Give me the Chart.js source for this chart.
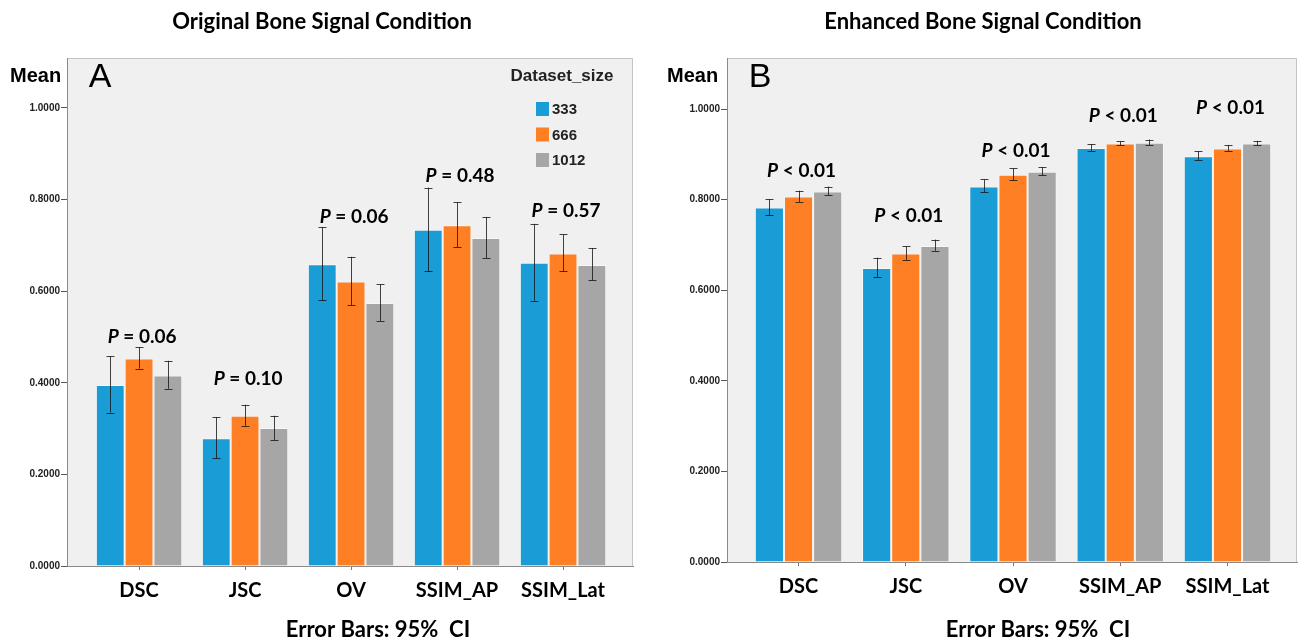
<!DOCTYPE html>
<html>
<head>
    <title>Bone Signal Condition</title>
    <script src="https://cdn.jsdelivr.net/npm/chart.js" type="text/javascript"></script>
    <style>
        body { margin: 0; background: #fff; }
        .panel { position: absolute; top: 0; height: 644px; }
    </style>
    <script type="text/javascript">

        var categories = ['DSC', 'JSC', 'OV', 'SSIM_AP', 'SSIM_Lat'];
        var datasetSizes = ['333', '666', '1012'];
        var barColors = ['rgb(26,156,215)', 'rgb(255,127,36)', 'rgb(166,166,166)'];

        // Panel A - original bone signal (rows: 333, 666, 1012)
        var origMean = [
            [0.395, 0.279, 0.659, 0.734, 0.662],
            [0.453, 0.328, 0.621, 0.744, 0.682],
            [0.416, 0.301, 0.574, 0.716, 0.657]
        ];
        var origLow = [
            [0.335, 0.235, 0.580, 0.643, 0.579],
            [0.431, 0.306, 0.569, 0.696, 0.643],
            [0.387, 0.275, 0.535, 0.672, 0.624]
        ];
        var origHigh = [
            [0.458, 0.325, 0.740, 0.826, 0.747],
            [0.478, 0.352, 0.675, 0.794, 0.724],
            [0.448, 0.328, 0.615, 0.762, 0.694]
        ];
        var origP = ['= 0.06', '= 0.10', '= 0.06', '= 0.48', '= 0.57'];
        var origPY = [0.501, 0.408, 0.763, 0.852, 0.775];

        // Panel B - enhanced bone signal
        var enhMean = [
            [0.783, 0.649, 0.829, 0.914, 0.896],
            [0.807, 0.681, 0.855, 0.924, 0.913],
            [0.818, 0.698, 0.862, 0.926, 0.924]
        ];
        var enhLow = [
            [0.766, 0.630, 0.817, 0.908, 0.888],
            [0.795, 0.667, 0.843, 0.920, 0.908],
            [0.810, 0.687, 0.854, 0.921, 0.920]
        ];
        var enhHigh = [
            [0.801, 0.672, 0.845, 0.923, 0.907],
            [0.820, 0.697, 0.869, 0.929, 0.921],
            [0.829, 0.712, 0.872, 0.933, 0.930]
        ];
        var enhP = ['< 0.01', '< 0.01', '< 0.01', '< 0.01', '< 0.01'];
        var enhPY = [0.863, 0.764, 0.907, 0.985, 1.002];

        var yTicks = [0, 0.2, 0.4, 0.6, 0.8, 1.0];

        var panelDecor = {
            id: 'panelDecor',
            beforeDraw: function (chart, args, o) {
                var ctx = chart.ctx, a = chart.chartArea;
                ctx.save();
                ctx.fillStyle = '#f0f0f0';
                ctx.fillRect(a.left, a.top, a.right - a.left, a.bottom - a.top);
                ctx.strokeStyle = '#c4c4c4';
                ctx.lineWidth = 1;
                ctx.beginPath();
                ctx.moveTo(a.left, a.top + 0.5);
                ctx.lineTo(a.right - 0.5, a.top + 0.5);
                ctx.lineTo(a.right - 0.5, a.bottom);
                ctx.stroke();
                ctx.restore();
            },
            afterDatasetsDraw: function (chart, args, o) {
                var ctx = chart.ctx, a = chart.chartArea;
                var ys = chart.scales.y, xs = chart.scales.x;
                ctx.save();

                // error bars
                ctx.strokeStyle = 'rgba(20,20,20,0.8)';
                ctx.lineWidth = 1;
                chart.data.datasets.forEach(function (ds, d) {
                    var meta = chart.getDatasetMeta(d);
                    meta.data.forEach(function (bar, i) {
                        var x = Math.round(bar.x) + 0.5;
                        var y1 = ys.getPixelForValue(o.low[d][i]);
                        var y2 = ys.getPixelForValue(o.high[d][i]);
                        ctx.beginPath();
                        ctx.moveTo(x, y1); ctx.lineTo(x, y2);
                        ctx.moveTo(x - 4, Math.round(y1) + 0.5); ctx.lineTo(x + 4, Math.round(y1) + 0.5);
                        ctx.moveTo(x - 4, Math.round(y2) + 0.5); ctx.lineTo(x + 4, Math.round(y2) + 0.5);
                        ctx.stroke();
                    });
                });

                // P value labels
                ctx.fillStyle = '#000';
                ctx.textBaseline = 'middle';
                categories.forEach(function (c, i) {
                    var cx = xs.getPixelForValue(i) + 3;
                    var cy = ys.getPixelForValue(o.pY[i]);
                    ctx.font = 'italic bold 19px Lato';
                    var w1 = ctx.measureText('P').width;
                    ctx.font = 'bold 19px Lato';
                    var rest = ' ' + o.pText[i];
                    var w2 = ctx.measureText(rest).width;
                    var x0 = cx - (w1 + w2) / 2;
                    ctx.textAlign = 'left';
                    ctx.font = 'italic bold 19px Lato';
                    ctx.fillText('P', x0, cy);
                    ctx.font = 'bold 19px Lato';
                    ctx.fillText(rest, x0 + w1, cy);
                });

                // texts around the plot
                ctx.textAlign = 'center';
                ctx.font = 'bold 22px Lato';
                ctx.fillText(o.title, o.titleX, 22);
                ctx.font = 'bold 22px Lato';
                ctx.fillText('Error Bars: 95%  CI', o.footX, 630);
                ctx.textAlign = 'left';
                ctx.font = 'bold 20px "Liberation Sans"';
                ctx.fillText('Mean', o.meanX, 76);
                ctx.textAlign = 'center';
                ctx.font = '34px "Liberation Sans"';
                ctx.fillText(o.letter, a.left + o.letterDX, 78);

                // legend
                if (o.legend) {
                    ctx.font = 'bold 17px "Liberation Sans"';
                    ctx.fillStyle = '#222';
                    ctx.fillText('Dataset_size', 562, 76);
                    ctx.textAlign = 'left';
                    ctx.font = 'bold 15px "Liberation Sans"';
                    chart.data.datasets.forEach(function (ds, d) {
                        var top = 102 + d * 25.5;
                        ctx.fillStyle = ds.backgroundColor;
                        ctx.fillRect(536, top, 13, 14);
                        ctx.fillStyle = '#222';
                        ctx.fillText(ds.label, 552, top + 8);
                    });
                }
                ctx.restore();
            }
        };

        function makePanel(id, mean, low, high, pText, pY, opt) {
            var datasets = datasetSizes.map(function (s, d) {
                return {
                    label: s,
                    data: categories.map(function (c, i) { return { x: i, y: mean[d][i] }; }),
                    backgroundColor: barColors[d],
                    borderColor: 'rgba(255,255,255,0.45)',
                    borderWidth: 1
                };
            });
            return new Chart(document.getElementById(id), {
                type: 'bar',
                data: { datasets: datasets },
                options: {
                    responsive: true,
                    maintainAspectRatio: false,
                    animation: false,
                    categoryPercentage: 0.815,
                    barPercentage: 1.0,
                    layout: { padding: { left: 0, top: 58, right: opt.padRight, bottom: 0 } },
                    scales: {
                        x: {
                            type: 'linear',
                            offset: false,
                            min: opt.xMin,
                            max: opt.xMax,
                            afterBuildTicks: function (scale) {
                                scale.ticks = categories.map(function (c, i) { return { value: i }; });
                            },
                            afterFit: function (scale) { scale.height = opt.xHeight; },
                            grid: { offset: false, drawOnChartArea: false, drawTicks: true, tickLength: 4, color: '#777' },
                            border: { display: true, color: '#8a8a8a' },
                            ticks: {
                                autoSkip: false,
                                maxRotation: 0,
                                padding: 9,
                                color: '#000',
                                font: { family: 'Lato', weight: 'bold', size: 20 },
                                callback: function (v) { return categories[v]; }
                            }
                        },
                        y: {
                            min: 0,
                            max: opt.yMax,
                            afterBuildTicks: function (scale) {
                                scale.ticks = yTicks.map(function (v) { return { value: v }; });
                            },
                            afterFit: function (scale) { scale.width = opt.yWidth; },
                            grid: { drawOnChartArea: false, drawTicks: true, tickLength: 6, color: '#555' },
                            border: { display: true, color: '#8a8a8a' },
                            ticks: {
                                padding: 1,
                                color: '#222',
                                font: { family: 'Liberation Sans', weight: 'bold', size: 10 },
                                callback: function (v) { return v.toFixed(4); }
                            }
                        }
                    },
                    plugins: {
                        legend: { display: false },
                        tooltip: { enabled: false },
                        panelDecor: {
                            low: low, high: high, pText: pText, pY: pY,
                            title: opt.title, titleX: opt.titleX, footX: opt.footX,
                            meanX: opt.meanX, letter: opt.letter, letterDX: opt.letterDX,
                            legend: opt.legend
                        }
                    }
                },
                plugins: [panelDecor]
            });
        }

        window.onload = function () {
            makePanel('chartA', origMean, origLow, origHigh, origP, origPY, {
                padRight: 17, xMin: -0.68, xMax: 4.66, xHeight: 78, yWidth: 67, yMax: 1.109,
                title: 'Original Bone Signal Condition', titleX: 322, footX: 378,
                meanX: 10, letter: 'A', letterDX: 33, legend: true
            });
            makePanel('chartB', enhMean, enhLow, enhHigh, enhP, enhPY, {
                padRight: 4, xMin: -0.667, xMax: 4.648, xHeight: 82, yWidth: 77, yMax: 1.113,
                title: 'Enhanced Bone Signal Condition', titleX: 333, footX: 388,
                meanX: 17, letter: 'B', letterDX: 33, legend: false
            });
        };

    </script>
</head>
<body>
    <div class="panel" style="left:0; width:650px;"><canvas id="chartA"></canvas></div>
    <div class="panel" style="left:650px; width:651px;"><canvas id="chartB"></canvas></div>
</body>
</html>
